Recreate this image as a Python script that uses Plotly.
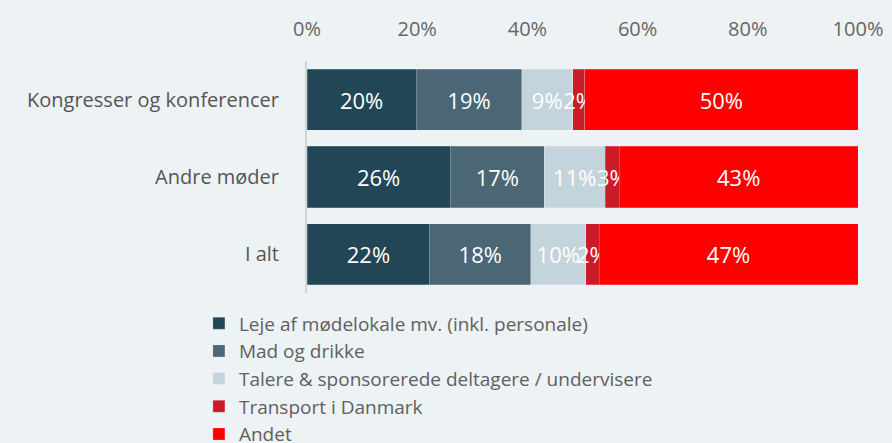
import plotly.graph_objects as go

kategorier = ["Kongresser og konferencer", "Andre møder", "I alt"]
serier = [
    "Leje af mødelokale mv. (inkl. personale)",
    "Mad og drikke",
    "Talere & sponsorerede deltagere / undervisere",
    "Transport i Danmark",
    "Andet",
]
leje = [19.8, 26.0, 22.3]
mad = [19.2, 17.1, 18.3]
talere = [9.2, 11.0, 10.0]
transport = [2.2, 2.6, 2.4]
andet = [49.6, 43.3, 47.0]
x_ticks = [0, 20, 40, 60, 80, 100]
x_labels = ["0%", "20%", "40%", "60%", "80%", "100%"]

farver = ["#234657", "#4b6675", "#c4d4dc", "#cc1b28", "#ff0000"]
vaerdier = [leje, mad, talere, transport, andet]

fig = go.Figure()
for navn, v, farve in zip(serier, vaerdier, farver):
    fig.add_trace(go.Bar(
        y=kategorier, x=v, name=navn, orientation="h",
        marker=dict(color=farve, line=dict(color="rgba(255,255,255,0.35)", width=0.6)),
        texttemplate="%{x:.0f}%", textposition="inside", textangle=0,
        insidetextanchor="middle",
        textfont=dict(color="white", size=22),
    ))

fig.update_layout(
    barmode="stack",
    bargap=0.21,
    width=892, height=443,
    paper_bgcolor="#edf2f5", plot_bgcolor="#edf2f5",
    font=dict(family="Open Sans", color="#606060", size=20),
    margin=dict(l=307, r=34, t=61, b=150, autoexpand=False),
    uniformtext=dict(minsize=22, mode="show"),
    legend=dict(orientation="v", xref="container", yref="container",
                x=0.223, y=0.313, xanchor="left", yanchor="top",
                traceorder="normal", font=dict(size=19, color="#606060"),
                itemwidth=30, tracegroupgap=0, bgcolor="rgba(0,0,0,0)"),
    showlegend=True,
)
fig.update_xaxes(side="top", range=[0, 100], tickvals=x_ticks, ticktext=x_labels,
                 showgrid=False, zeroline=False, showline=False, ticklabelstandoff=20,
                 tickfont=dict(size=20, color="#666666"))
fig.update_yaxes(autorange="reversed", showgrid=False, showline=True,
                 linecolor="#d0d5d8", linewidth=2, ticks="", ticklabelstandoff=22,
                 tickfont=dict(size=20, color="#555555"))

fig.write_html("out.html", config={"displayModeBar": False},
               post_script="document.body.style.margin='0';")
